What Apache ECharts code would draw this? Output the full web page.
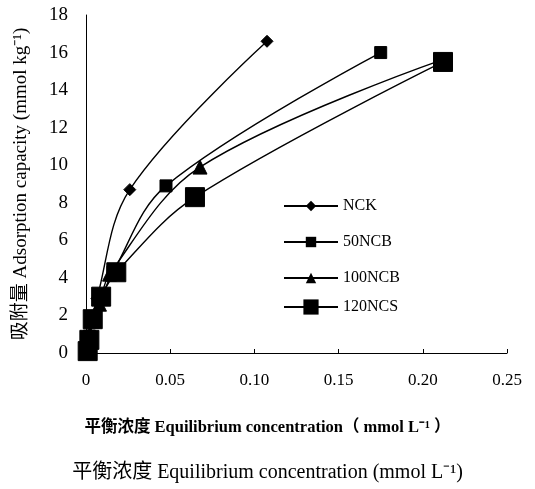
<!DOCTYPE html>
<html><head><meta charset="utf-8">
<script src="https://cdn.jsdelivr.net/npm/echarts@6/dist/echarts.min.js"></script>
<style>html,body{margin:0;padding:0;background:#fff}#c{width:535px;height:489px}</style>
</head><body><div id="c"></div>
<script>
const seriesNames = ['NCK', '50NCB', '100NCB', '120NCS'];
const xTickLabels = ['0', '0.05', '0.10', '0.15', '0.20', '0.25'];
const yTickLabels = ['0', '2', '4', '6', '8', '10', '12', '14', '16', '18'];
const nckX = [0.001, 0.002, 0.0065, 0.026, 0.1075];
const nckY = [0.3, 1.0, 2.9, 8.7, 16.6];
const ncb50X = [0.001, 0.002, 0.005, 0.009, 0.016, 0.0475, 0.175];
const ncb50Y = [0.2, 0.9, 1.9, 2.9, 4.3, 8.9, 16.0];
const ncb100X = [0.001, 0.002, 0.004, 0.008, 0.014, 0.0677, 0.211];
const ncb100Y = [0.2, 0.8, 1.7, 2.6, 4.2, 9.9, 15.6];
const ncs120X = [0.001, 0.002, 0.004, 0.009, 0.018, 0.0647, 0.212];
const ncs120Y = [0.1, 0.7, 1.8, 3.0, 4.3, 8.3, 15.5];
const yTitle = '吸附量 Adsorption capacity (mmol kg⁻¹)';
const xTitle1 = '平衡浓度 Equilibrium concentration（ mmol L⁻¹ ）';
const xTitle2 = '平衡浓度 Equilibrium concentration (mmol L⁻¹)';

const zip = (xs, ys) => xs.map((x, i) => [x, ys[i]]);
const font = '"Liberation Serif", "Noto Sans CJK SC", serif';
const chart = echarts.init(document.getElementById('c'), null, {renderer: 'canvas'});
const mk = (name, xs, ys, symbol, size) => ({
  name, type: 'line', smooth: 0.35, data: zip(xs, ys),
  symbol, symbolSize: size,
  lineStyle: {color: '#000', width: 1.4},
  itemStyle: {color: '#000', borderColor: '#000'},
  emphasis: {disabled: true}
});
const legendBase = {
  orient: 'vertical', left: 278, itemWidth: 54, itemGap: 20,
  textStyle: {fontSize: 16, fontFamily: font, color: '#000'},
  inactiveColor: '#000', selectedMode: false
};
chart.setOption({
  animation: false,
  textStyle: {fontFamily: font, color: '#000'},
  grid: {left: 86, right: 28, top: 15, bottom: 136},
  xAxis: {
    type: 'value', min: 0, max: 0.25, interval: 0.05,
    axisLine: {lineStyle: {color: '#000', width: 1}},
    axisTick: {inside: true, length: 4, lineStyle: {color: '#000'}},
    splitLine: {show: false},
    axisLabel: {color: '#000', fontSize: 17, fontFamily: font, margin: 19,
      formatter: (v) => xTickLabels[Math.round(v / 0.05)]}
  },
  yAxis: {
    type: 'value', min: 0, max: 18, interval: 2,
    axisLine: {show: true, lineStyle: {color: '#000', width: 1}},
    axisTick: {show: false},
    splitLine: {show: false},
    axisLabel: {color: '#000', fontSize: 19, fontFamily: font, margin: 18,
      formatter: (v) => yTickLabels[Math.round(v / 2)]},
    name: yTitle, nameLocation: 'middle', nameGap: 55,
    nameTextStyle: {fontSize: 19, fontFamily: font, color: '#000'}
  },
  legend: [
    Object.assign({}, legendBase, {top: 193, itemHeight: 13, data: seriesNames.slice(0, 3)}),
    Object.assign({}, legendBase, {top: 294, itemHeight: 19, data: seriesNames.slice(3)})
  ],
  graphic: [
    {type: 'text', left: 'center', top: 419, style: {text: xTitle1, font: 'bold 16.5px ' + font, fill: '#000'}},
    {type: 'text', left: 'center', top: 463, style: {text: xTitle2, font: '20px ' + font, fill: '#000'}}
  ],
  series: [
    mk(seriesNames[0], nckX, nckY, 'diamond', 12),
    mk(seriesNames[1], ncb50X, ncb50Y, 'rect', 12),
    mk(seriesNames[2], ncb100X, ncb100Y, 'triangle', 14),
    mk(seriesNames[3], ncs120X, ncs120Y, 'rect', 19)
  ]
});
</script></body></html>
